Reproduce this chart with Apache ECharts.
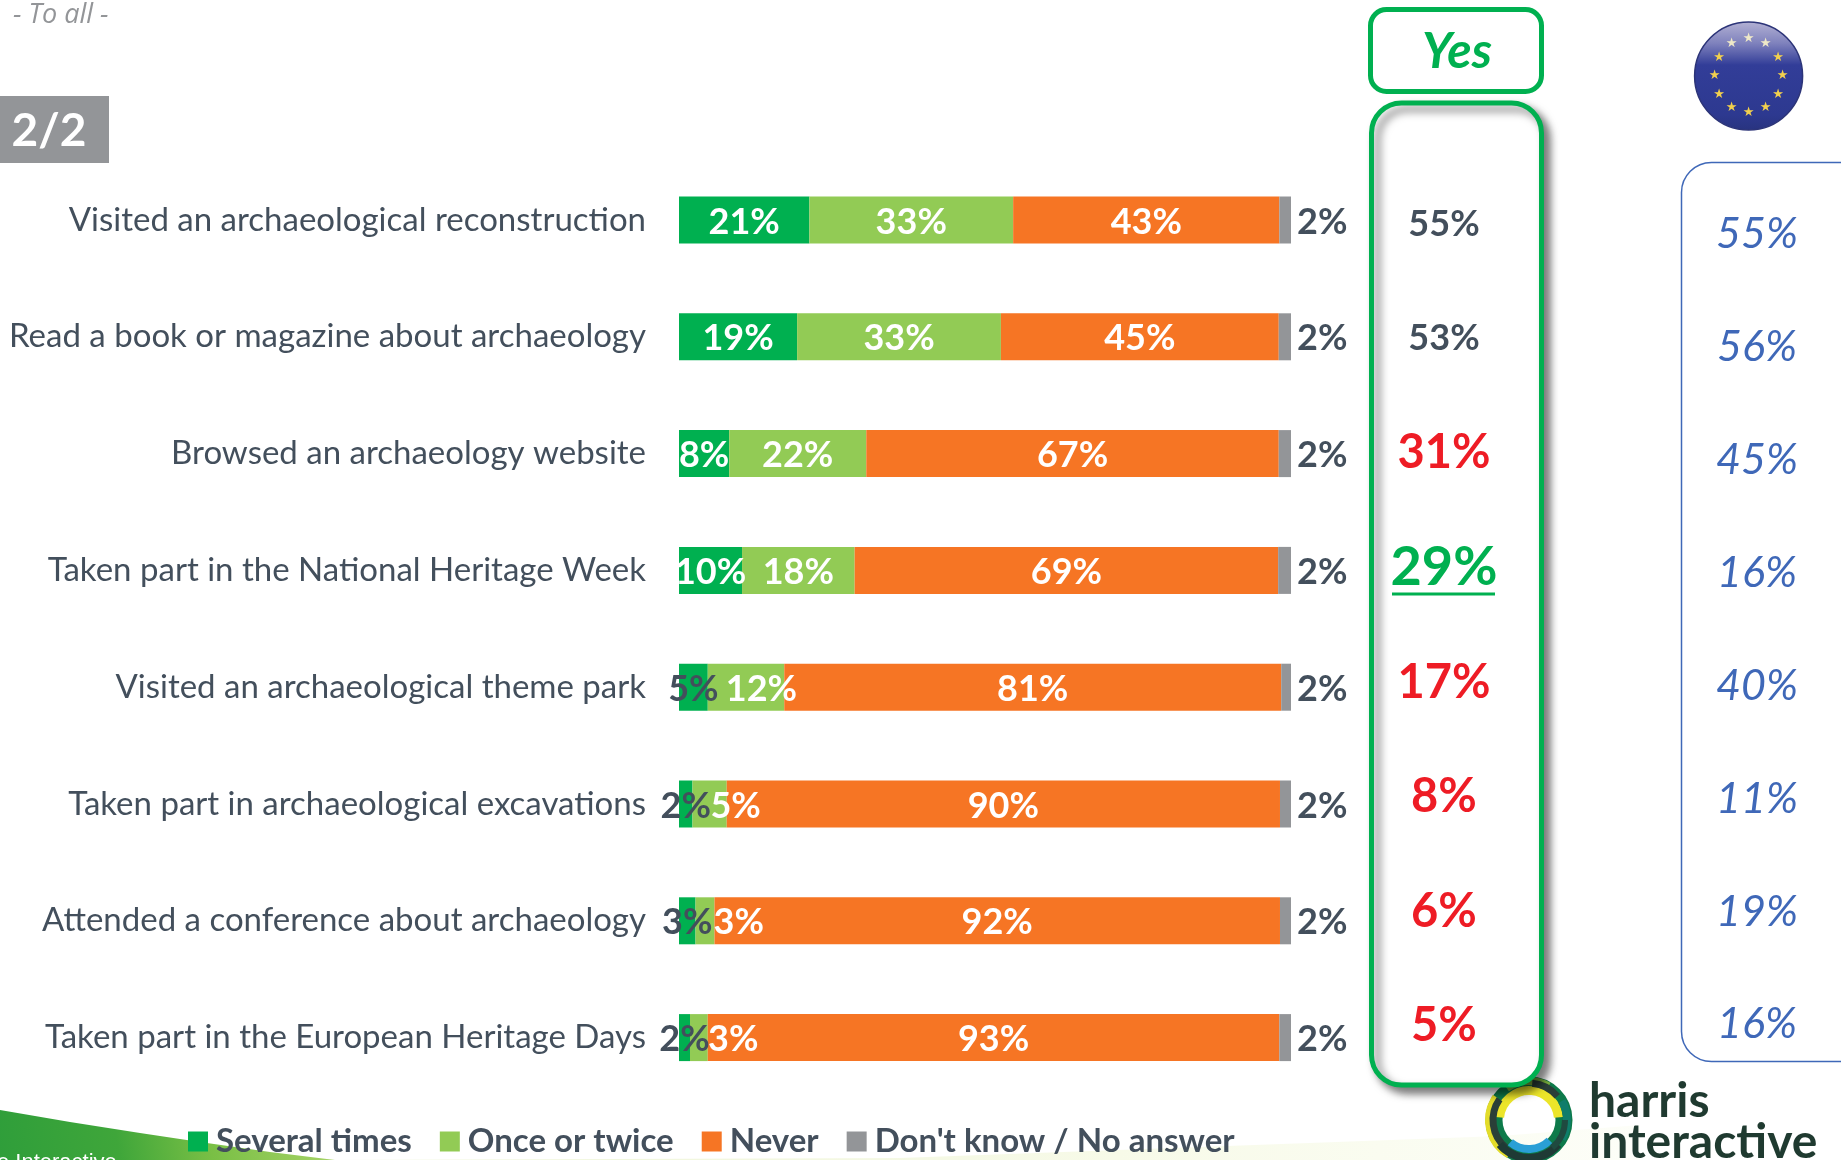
<!DOCTYPE html>
<html><head><meta charset="utf-8">
<style>html,body{margin:0;padding:0;background:#fff}#c{width:1841px;height:1160px}</style>
<script src="https://cdn.jsdelivr.net/npm/echarts@6/dist/echarts.min.js"></script>
</head><body><div id="c"></div>
<script>
const categories = ['Visited an archaeological reconstruction','Read a book or magazine about archaeology','Browsed an archaeology website','Taken part in the National Heritage Week','Visited an archaeological theme park','Taken part in archaeological excavations','Attended a conference about archaeology','Taken part in the European Heritage Days'];
// bar lengths
const severalTimes = [21.3,19.3,8.2,10.3,4.7,2.2,2.7,1.8];
const onceOrTwice  = [33.3,33.3,22.4,18.4,12.5,5.6,3.1,2.9];
const never        = [43.5,45.4,67.4,69.2,81.2,90.4,92.4,93.4];
const dontKnow     = [1.9,2.0,2.0,2.1,1.6,1.8,1.8,1.9];
// percentages as printed
const severalLabels = ['21%','19%','8%','10%','5%','2%','3%','2%'];
const onceLabels    = ['33%','33%','22%','18%','12%','5%','3%','3%'];
const neverLabels   = ['43%','45%','67%','69%','81%','90%','92%','93%'];
const dontKnowLabels= ['2%','2%','2%','2%','2%','2%','2%','2%'];
const yesValues = ['55%','53%','31%','29%','17%','8%','6%','5%'];
const yesTone   = ['n','n','low','high','low','low','low','low'];
const euValues  = ['55%','56%','45%','16%','40%','11%','19%','16%'];
const seriesNames = ['Several times','Once or twice','Never',"Don't know / No answer"];

const FONT='Lato', DARK='#434f5c', GREEN='#00b050', LIME='#92cb55', ORANGE='#f67524', GREY='#939598', BLUE='#3f68b8', RED='#ee1c25';
const toneStyle={n:{color:DARK,fontSize:36},low:{color:RED,fontSize:47},high:{color:GREEN,fontSize:54}};

function barSeries(name,vals,labels,color,perPoint,base){
  return {name,type:'bar',stack:'a',xAxisIndex:0,yAxisIndex:0,barWidth:47,itemStyle:{color},
    label:Object.assign({show:true,position:'inside',offset:[0,2],fontFamily:FONT,fontWeight:'bold',fontSize:36,color:'#fff'},base||{}),
    data:vals.map((v,i)=>({value:v,shown:labels[i],label:Object.assign({formatter:labels[i]},perPoint?perPoint(i):{})}))};
}
const flagCx=1748.6, flagCy=76;
const stars=[];
for(let i=0;i<12;i++){const a=i*Math.PI/6;
  stars.push({type:'text',z:3,style:{text:'★',x:flagCx+34*Math.sin(a),y:flagCy-37*Math.cos(a),align:'center',verticalAlign:'middle',fontSize:13,fill:i<1||i==1||i==11?'#efe9c8':'#f2d04e',fontFamily:'DejaVu Sans'}});}
const lx=1529, ly=1120;
const arc=(r,a,b,c,w)=>({type:'arc',z:1,shape:{cx:lx,cy:ly,r,startAngle:a*Math.PI/180,endAngle:b*Math.PI/180},style:{stroke:c,lineWidth:w,fill:null}});

const graphic=[
 {type:'polygon',z:0,shape:{points:[[0,1110],[70,1122],[140,1133],[200,1142],[270,1152],[335,1160],[0,1160]]},
  style:{fill:new echarts.graphic.LinearGradient(0,1,1,0,[{offset:0,color:'#2f9e3a'},{offset:.35,color:'#3fa63a'},{offset:.62,color:'#79bf45'},{offset:1,color:'#a9d469'}])}},
 {type:'polygon',z:0,shape:{points:[[335,1160],[900,1158],[1500,1136],[1640,1125],[1640,1160]]},
  style:{fill:new echarts.graphic.LinearGradient(0,0,1,0,[{offset:0,color:'#eef5d8'},{offset:.6,color:'#f7fae8'},{offset:1,color:'#fdfef8'}])}},
 {type:'text',z:1,style:{text:'e Interactive',x:-3,y:1152,fontFamily:'Liberation Sans',fontSize:22,fill:'#fff'}},
 {type:'text',z:1,style:{text:'- To all -',x:13,y:2,fontFamily:'Open Sans',fontStyle:'italic',fontSize:27,fill:'#939598'}},
 {type:'rect',z:1,shape:{x:0,y:96,width:109,height:67},style:{fill:GREY}},
 {type:'text',z:2,style:{text:'2/2',x:49,y:131,align:'center',verticalAlign:'middle',fontFamily:FONT,fontWeight:'bold',fontSize:46,fill:'#fff'}},
 // logo
 arc(35,0,359.9,'#0d7a4a',17),
 arc(41,120,215,'#e3dc2a',6),arc(39,235,300,'#7bb23e',8),
 arc(29.5,185,355,'#ece52a',9),
 arc(36,130,215,'#2a3f38',7),arc(38,40,140,'#1f3a35',8),
 arc(29,45,130,'#2a9fd6',8),arc(37,275,320,'#2a3f38',7),arc(38,330,30,'#0f7d6b',8),arc(36,0,50,'#1f4a40',6),
 {type:'text',z:1,style:{text:'harris',x:1589,y:1102,verticalAlign:'middle',fontFamily:FONT,fontWeight:'bold',fontSize:48,fill:'#1f3a30'}},
 {type:'text',z:1,style:{text:'interactive',x:1589,y:1143,verticalAlign:'middle',fontFamily:FONT,fontWeight:'bold',fontSize:48,fill:'#1f3a30'}},
 // Yes header and main boxes
 {type:'rect',z:1,shape:{x:1370.5,y:9.5,width:171,height:82,r:16},style:{fill:'#fff',stroke:GREEN,lineWidth:5}},
 {type:'text',z:2,style:{text:'Yes',x:1457,y:52,align:'center',verticalAlign:'middle',fontFamily:FONT,fontWeight:'bold',fontStyle:'italic',fontSize:50,fill:GREEN}},
 {type:'rect',z:1,shape:{x:1371.5,y:103,width:170,height:982,r:30},style:{fill:'#fff',stroke:GREEN,lineWidth:5,shadowBlur:9,shadowColor:'rgba(0,0,0,.5)',shadowOffsetX:6,shadowOffsetY:6}},
 {type:'line',z:3,shape:{x1:1392,y1:594,x2:1495,y2:594},style:{stroke:GREEN,lineWidth:3}},
 // EU
 {type:'rect',z:1,shape:{x:1681.5,y:162.5,width:220,height:899,r:30},style:{fill:'#fff',stroke:BLUE,lineWidth:1.5}},
 {type:'circle',z:2,shape:{cx:flagCx,cy:flagCy,r:54},style:{fill:new echarts.graphic.LinearGradient(0,0,0,1,[{offset:0,color:'#b4b2d4'},{offset:.2,color:'#7f82bd'},{offset:.4,color:'#323d98'},{offset:.85,color:'#2d3990'},{offset:1,color:'#28337f'}]),stroke:'#2c3478',lineWidth:1.5}},
 ...stars
];

const chart=echarts.init(document.getElementById('c'),null,{renderer:'canvas'});
chart.setOption({
 animation:false,backgroundColor:'#fff',
 textStyle:{fontFamily:FONT},
 graphic,
 legend:{left:183,top:1120,itemWidth:20,itemHeight:20,itemGap:28,icon:'rect',selectedMode:false,data:seriesNames,
   textStyle:{fontFamily:FONT,fontWeight:'bold',fontSize:33,color:DARK,padding:[0,0,0,3]}},
 grid:[
  {left:679,width:612,top:161.6,height:934.4},
  {left:1369,width:150,top:166.6,height:917},
  {left:1700,width:114,top:178,height:903}
 ],
 xAxis:[
  {type:'value',gridIndex:0,min:0,max:100,show:false},
  {type:'value',gridIndex:1,min:-1,max:1,show:false},
  {type:'value',gridIndex:2,min:-1,max:1,show:false}
 ],
 yAxis:[
  {type:'category',gridIndex:0,inverse:true,data:categories,axisLine:{show:false},axisTick:{show:false},
   axisLabel:{fontFamily:FONT,fontSize:33,color:DARK,margin:33}},
  {type:'category',gridIndex:1,inverse:true,data:categories,show:false},
  {type:'category',gridIndex:2,inverse:true,data:categories,show:false}
 ],
 series:[
  barSeries(seriesNames[0],severalTimes,severalLabels,GREEN,i=>i>=4?{color:DARK}:{}),
  barSeries(seriesNames[1],onceOrTwice,onceLabels,LIME,i=>i>=4?{position:'insideLeft',distance:18}:{}),
  barSeries(seriesNames[2],never,neverLabels,ORANGE),
  barSeries(seriesNames[3],dontKnow,dontKnowLabels,GREY,null,{position:'right',distance:6,color:DARK}),
  {type:'scatter',xAxisIndex:1,yAxisIndex:1,symbolSize:0,z:5,silent:true,itemStyle:{opacity:1},
   data:yesValues.map((v,i)=>({value:[0,i],label:{show:true,position:'inside',formatter:v,opacity:1,fontFamily:FONT,fontWeight:'bold',color:toneStyle[yesTone[i]].color,fontSize:toneStyle[yesTone[i]].fontSize}}))},
  {type:'scatter',xAxisIndex:2,yAxisIndex:2,symbolSize:0,z:5,silent:true,itemStyle:{opacity:1},
   data:euValues.map((v,i)=>({value:[0,i],label:{show:true,position:'inside',formatter:v,opacity:1,fontFamily:FONT,fontStyle:'italic',color:BLUE,fontSize:43}}))}
 ]
});
</script></body></html>
